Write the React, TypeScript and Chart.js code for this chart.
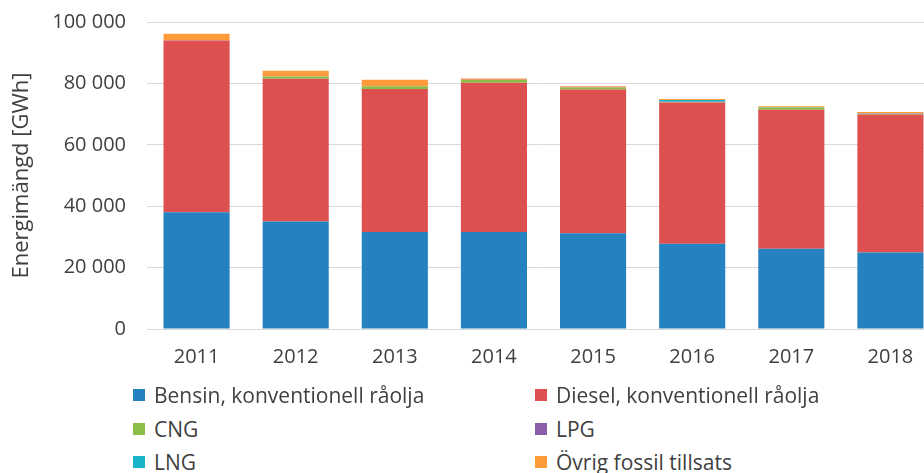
import React, { useEffect, useRef } from 'react';
import { Chart, registerables } from 'chart.js';

Chart.register(...registerables);

const years = ['2011', '2012', '2013', '2014', '2015', '2016', '2017', '2018'];
const bensin = [38000, 35000, 31600, 31600, 31200, 27800, 26100, 24900];
const diesel = [56000, 46500, 46600, 48600, 46800, 46000, 45300, 45000];
const cng = [0, 750, 850, 900, 650, 150, 750, 150];
const lpg = [60, 60, 60, 60, 60, 60, 60, 60];
const lng = [0, 0, 0, 0, 50, 600, 100, 100];
const ovrig = [2100, 1800, 2100, 400, 300, 300, 250, 450];

const seriesNames = [
  'Bensin, konventionell råolja',
  'Diesel, konventionell råolja',
  'CNG',
  'LPG',
  'LNG',
  'Övrig fossil tillsats',
];
const seriesColors = ['#2581c0', '#de504f', '#8cbd48', '#8a5ea8', '#1ab3c9', '#fd9a3a'];
const yTicks = [0, 20000, 40000, 60000, 80000, 100000];
const yTitle = 'Energimängd [GWh]';

const FONT = "'Open Sans', 'Liberation Sans', sans-serif";
const TEXT = '#404040';

function fmt(v: number): string {
  return String(v).replace(/\B(?=(\d{3})+(?!\d))/g, '\u00a0');
}

export default function App() {
  const ref = useRef<HTMLCanvasElement>(null);

  useEffect(() => {
    const values = [bensin, diesel, cng, lpg, lng, ovrig];
    const chart = new Chart(ref.current!, {
      type: 'bar',
      data: {
        labels: years,
        datasets: values.map((d, i) => ({
          label: seriesNames[i],
          data: d,
          backgroundColor: seriesColors[i],
          borderWidth: 0,
          barPercentage: 0.667,
          categoryPercentage: 1,
        })),
      },
      options: {
        responsive: false,
        animation: false,
        layout: { padding: { top: 11, left: 0, right: 0, bottom: 11 } },
        plugins: {
          legend: { display: false },
          tooltip: { enabled: false },
        },
        scales: {
          x: {
            stacked: true,
            grid: { display: false, drawTicks: false },
            border: { display: false },
            ticks: {
              padding: 16.5,
              color: TEXT,
              font: { family: FONT, size: 20 },
            },
          },
          y: {
            stacked: true,
            min: 0,
            max: 100000,
            afterFit: (scale: any) => {
              scale.width = 147;
            },
            afterBuildTicks: (scale: any) => {
              scale.ticks = yTicks.map((v) => ({ value: v }));
            },
            grid: { color: '#d9d9d9', lineWidth: 1, drawTicks: false },
            border: { display: false },
            ticks: {
              padding: 21,
              color: TEXT,
              font: { family: FONT, size: 20 },
              callback: (v: any) => fmt(Number(v)),
            },
            title: {
              display: true,
              text: yTitle,
              color: TEXT,
              font: { family: FONT, size: 22 },
              padding: { top: 9, bottom: 0 },
            },
          },
        },
      },
    });
    return () => chart.destroy();
  }, []);

  const rows = [
    [0, 1],
    [2, 3],
    [4, 5],
  ];
  const rowTops = [383, 417, 450];
  const colLefts = [133, 535];

  return (
    <div
      style={{
        position: 'fixed',
        left: 0,
        top: 0,
        width: 924,
        height: 473,
        overflow: 'hidden',
        background: '#ffffff',
      }}
    >
      <canvas
        ref={ref}
        width={940}
        height={408}
        style={{ position: 'absolute', left: 0, top: -11, width: 940, height: 408 }}
      />
      {rows.map((r, ri) =>
        r.map((si, ci) => (
          <div
            key={si}
            style={{
              position: 'absolute',
              left: colLefts[ci],
              top: rowTops[ri],
              height: 24,
              display: 'flex',
              alignItems: 'center',
              fontFamily: FONT,
              fontSize: 21,
              color: TEXT,
              whiteSpace: 'nowrap',
            }}
          >
            <span
              style={{
                display: 'inline-block',
                width: 12,
                height: 12,
                background: seriesColors[si],
                marginRight: 9,
              }}
            />
            <span>{seriesNames[si]}</span>
          </div>
        ))
      )}
    </div>
  );
}
